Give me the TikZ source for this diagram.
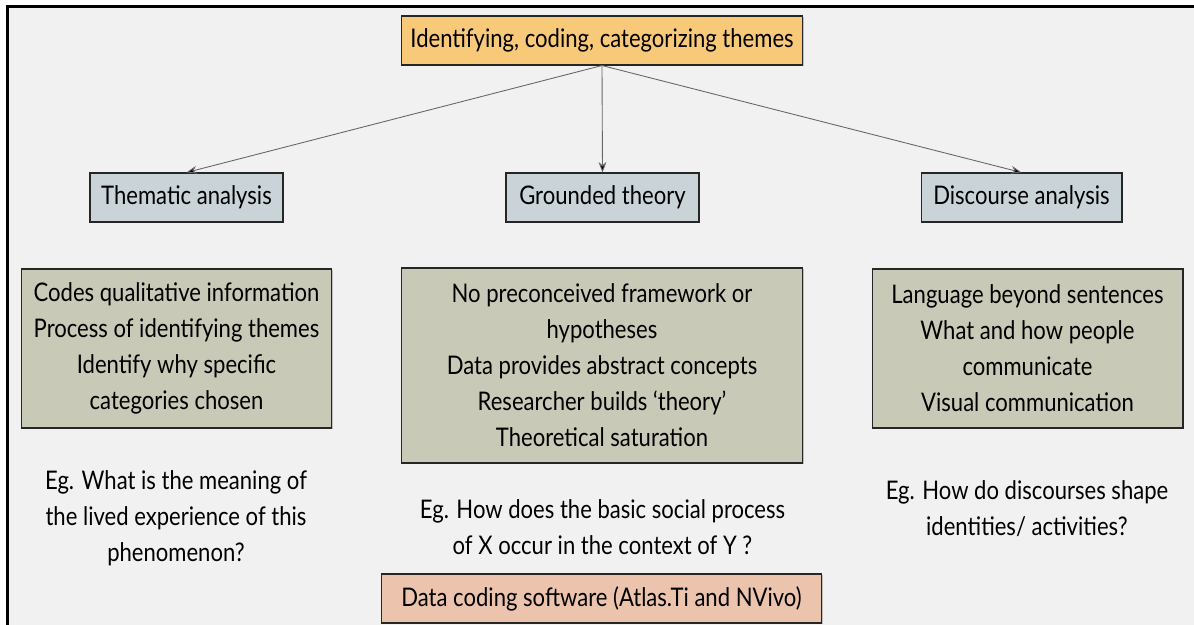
\documentclass[tikz,border=0pt]{standalone}
\usepackage{fontspec}
\setmainfont{Lato}[FakeStretch=0.86]
\usepackage{tikz}
\usetikzlibrary{arrows.meta,shadows}
\definecolor{framebg}{RGB}{241,241,241}
\definecolor{topfill}{RGB}{249,201,122}
\definecolor{methfill}{RGB}{201,211,216}
\definecolor{notefill}{RGB}{200,201,182}
\definecolor{softfill}{RGB}{236,196,174}

\begin{document}
\begin{tikzpicture}[x=0.02cm, y=-0.02cm,
  every node/.style={font=\fontsize{14.6}{20.5}\selectfont, align=center, inner sep=0pt},
  box/.style={draw=black!85, line width=0.6pt, drop shadow={shadow xshift=0.6pt, shadow yshift=-0.6pt, opacity=0.45}},
  link/.style={draw=black!60, line width=0.5pt, -{Stealth[length=6pt,width=4.5pt,fill=black]}}]
\useasboundingbox (0,0) rectangle (1194,625);
% frame
\fill[framebg] (8,7) rectangle (1194,625);
\draw[line width=1.2pt] (7.5,625) -- (7.5,6.5) -- (1194,6.5);
% top
\node[box, fill=topfill, minimum width=8.04cm, minimum height=0.98cm] (top) at (602,40.5) {Identifying, coding, categorizing themes};
% methods
\node[box, fill=methfill, minimum width=3.86cm, minimum height=0.98cm] (thema) at (186.5,197.5) {Thematic analysis};
\node[box, fill=methfill, minimum width=3.86cm, minimum height=0.98cm] (ground) at (602.5,197.5) {Grounded theory};
\node[box, fill=methfill, minimum width=4.02cm, minimum height=0.98cm] (disc) at (1021.5,197.5) {Discourse analysis};
\draw[link] (top.south) -- (thema.north);
\draw[link] (top.south) -- (ground.north);
\draw[link] (top.south) -- (disc.north);
% descriptions
\node[box, fill=notefill, minimum width=6.22cm, minimum height=3.18cm] (themanote) at (176.5,348.5)
  {Codes qualitative information\\Process of identifying themes\\Identify why specific\\categories chosen};
\node[box, fill=notefill, minimum width=8.04cm, minimum height=3.9cm] (groundnote) at (602,365.5)
  {No preconceived framework or\\hypotheses\\Data provides abstract concepts\\Researcher builds `theory'\\Theoretical saturation};
\node[box, fill=notefill, minimum width=6.22cm, minimum height=3.18cm] (discnote) at (1027.5,348.5)
  {Language beyond sentences\\What and how people\\communicate\\Visual communication};
% examples
\node (themaeg) at (176,518) {Eg. What is the meaning of\\the lived experience of this\\phenomenon?};
\node (groundeg) at (602.5,527.5) {Eg. How does the basic social process\\of X occur in the context of Y ?};
\node (disceg) at (1027,509) {Eg. How do discourses shape\\identities/ activities?};
% software
\node[box, fill=softfill, minimum width=8.82cm, minimum height=0.98cm] (soft) at (601.5,598.5) {Data coding software (Atlas.Ti and NVivo)};
\end{tikzpicture}
\end{document}
